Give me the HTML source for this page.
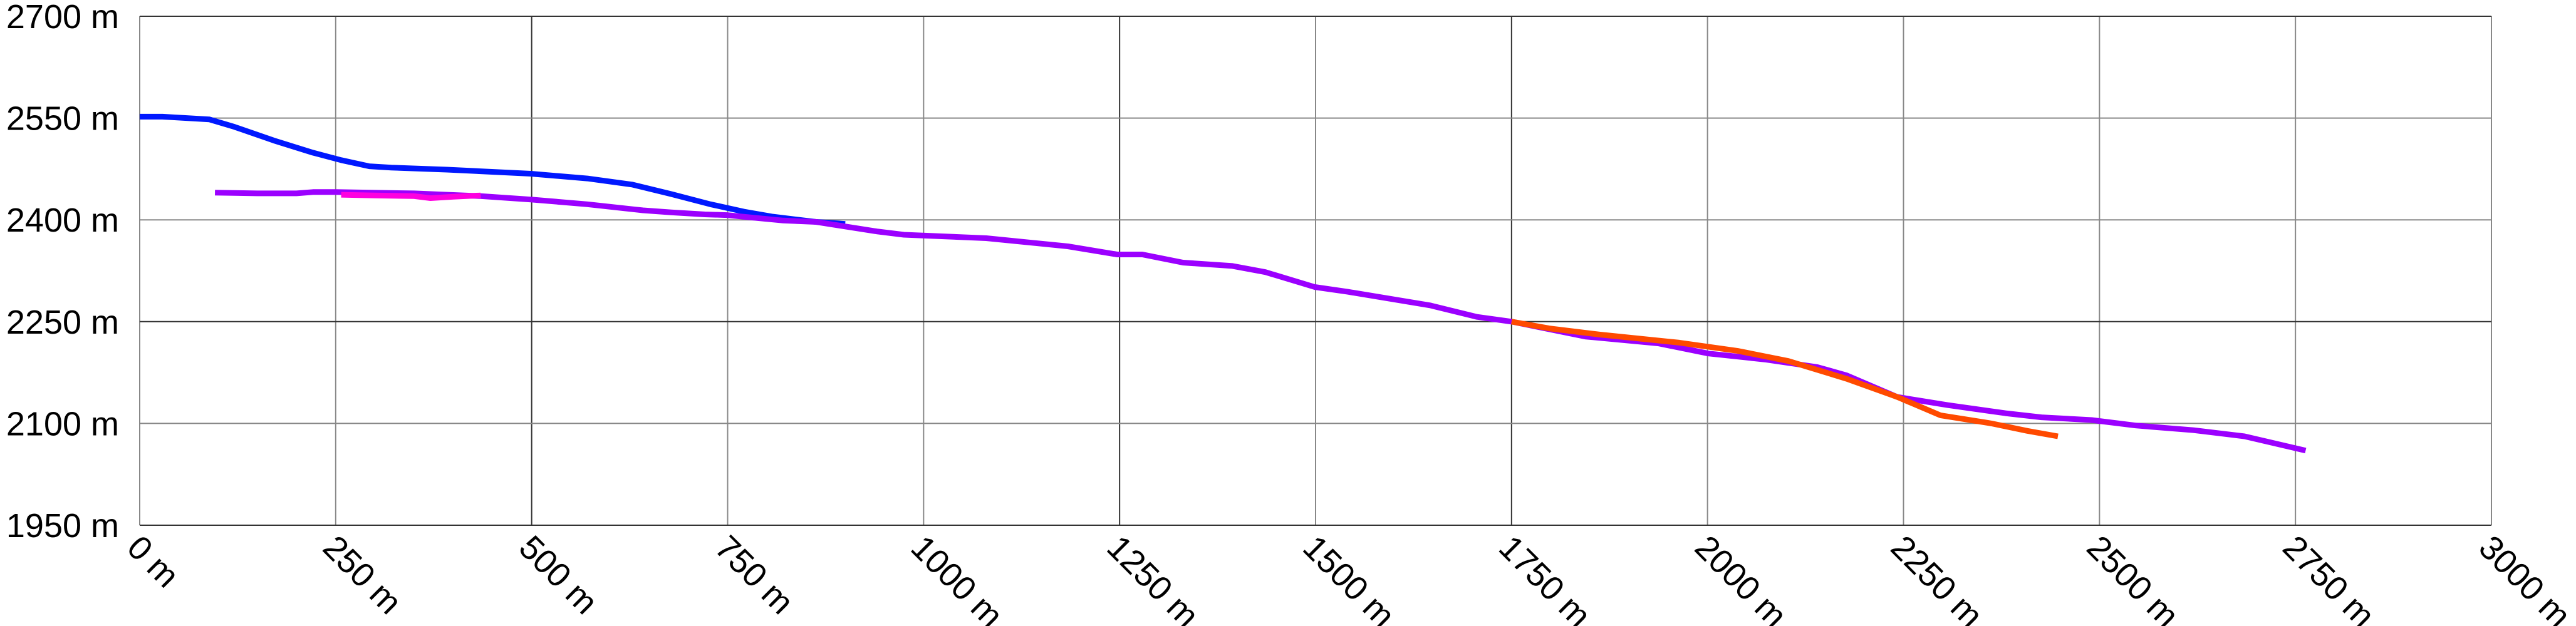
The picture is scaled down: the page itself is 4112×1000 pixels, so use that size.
<!DOCTYPE html>
<html><head><meta charset="utf-8"><style>
html,body{margin:0;padding:0;background:#fff;}
svg{display:block;}
text{font-family:"Liberation Sans",sans-serif;font-size:54px;fill:#000;}
</style></head><body>
<svg id="chart" width="4112" height="1000" viewBox="0 0 4112 1000" xmlns="http://www.w3.org/2000/svg">
<g id="grid"></g>
<g id="series"></g>
<g id="labels"></g>
</svg>
<script>
const xTicks = [0,250,500,750,1000,1250,1500,1750,2000,2250,2500,2750,3000];
const yTicks = [1950,2100,2250,2400,2550,2700];
const blueX = [0,29,89,121,171,221,257,293,321,392,499,571,628,678,728,771,806,863,900];
const blueY = [2552,2552,2548,2537,2517,2499,2488,2479,2477,2474,2468,2461,2452,2438,2423,2412,2405,2397,2394];
const purpleX = [96,150,200,221,250,350,435,499,571,642,678,721,749,821,863,940,975,1080,1184,1247,1279,1331,1394,1436,1499,1541,1646,1706,1750,1844,1937,2001,2075,2140,2177,2242,2306,2380,2426,2490,2546,2620,2685,2763];
const purpleY = [2440,2439,2439,2441,2441,2439,2435,2430,2423,2414,2411,2408,2407,2399,2397,2383,2378,2373,2361,2349,2349,2337,2332,2323,2301,2294,2274,2257,2250,2228,2218,2203,2194,2183,2171,2139,2127,2115,2109,2105,2097,2090,2081,2060];
const pinkX = [257,300,350,371,400,435];
const pinkY = [2437,2436,2435,2432,2434,2436];
const orangeX = [1750,1798,1862,1964,2038,2103,2177,2242,2297,2362,2408,2447];
const orangeY = [2250,2240,2231,2219,2207,2192,2166,2139,2112,2100,2089,2081];

const L=223,R=3977,T=26,B=839;
const sx = v => L + (v-0)/(3000-0)*(R-L);
const sy = v => B - (v-1950)/(2700-1950)*(B-T);
const NS="http://www.w3.org/2000/svg";
const grid=document.getElementById('grid'),ser=document.getElementById('series'),lab=document.getElementById('labels');
const darkX=[500,1250,1750], darkY=[2250];
xTicks.forEach(v=>{
  const l=document.createElementNS(NS,'line');
  
  
  l.setAttribute('x1',sx(v));l.setAttribute('x2',sx(v));l.setAttribute('y1',T);l.setAttribute('y2',B);
  l.setAttribute('stroke',darkX.includes(v)?'#333':'#888');l.setAttribute('stroke-width',2);
  grid.appendChild(l);
  const t=document.createElementNS(NS,'text');
  
  
  t.setAttribute('transform','translate('+(sx(v)+4)+','+(B+12)+') rotate(45)');
  t.setAttribute('x',0);t.setAttribute('y',0);t.setAttribute('dominant-baseline','hanging');
  t.textContent=v+' m';
  lab.appendChild(t);
});
yTicks.forEach(v=>{
  const l=document.createElementNS(NS,'line');
  
  
  l.setAttribute('x1',L);l.setAttribute('x2',R);l.setAttribute('y1',sy(v));l.setAttribute('y2',sy(v));
  l.setAttribute('stroke',(darkY.includes(v)||v===2700||v===1950)?'#333':'#888');l.setAttribute('stroke-width',2);
  grid.appendChild(l);
  const t=document.createElementNS(NS,'text');
  
  
  t.setAttribute('x',190);t.setAttribute('y',sy(v)+19);t.setAttribute('text-anchor','end');
  t.textContent=v+' m';
  lab.appendChild(t);
});
function drawLine(xs,ys,color,name){
  const p=document.createElementNS(NS,'path');
  
  
  p.setAttribute('d',xs.map((x,i)=>(i?'L':'M')+sx(x).toFixed(1)+','+sy(ys[i]).toFixed(1)).join(' '));
  p.setAttribute('fill','none');p.setAttribute('stroke',color);p.setAttribute('stroke-width',9);
  p.setAttribute('stroke-linejoin','round');
  ser.appendChild(p);
}
drawLine(blueX,blueY,'#0018ff','blue-track-line');
drawLine(purpleX,purpleY,'#9b00ff','purple-track-line');
drawLine(pinkX,pinkY,'#ff00e0','magenta-track-line');
drawLine(orangeX,orangeY,'#ff4a00','orange-track-line');
</script>
</body></html>
